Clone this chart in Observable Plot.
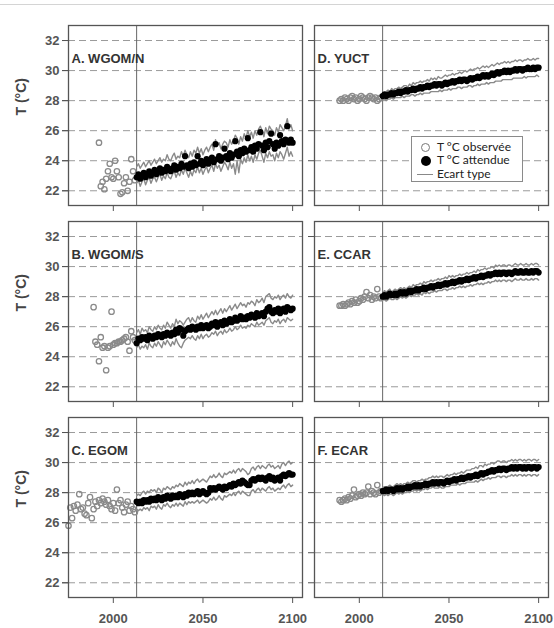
<!DOCTYPE html>
<html><head><meta charset="utf-8">
<script src="https://cdn.jsdelivr.net/npm/d3@7"></script>
<script src="https://cdn.jsdelivr.net/npm/@observablehq/plot@0.6"></script>
<style>
body{margin:0;background:#fff;}
#wrap{position:relative;width:554px;height:628px;overflow:hidden;background:#fff;}
#topline{position:absolute;left:0;top:4px;width:554px;height:0;border-top:1px solid #d4d4d4;}
#legend{position:absolute;left:411px;top:136px;width:112px;height:46px;border:1px solid #8a8a8a;background:#fff;font-family:Lato,"Open Sans",sans-serif;font-size:12px;color:#222;box-sizing:border-box;}
#legend .row{position:absolute;left:0;width:110px;height:14px;line-height:14px;}
#legend .lab{position:absolute;left:25px;top:0;white-space:nowrap;}
#legend .sym{position:absolute;box-sizing:border-box;}
</style>
</head><body>
<div id="wrap"><div id="topline"></div><div id="chart"></div><div id="legend"></div></div>
<script>
// ---- data ----
const panelNames = ["A. WGOM/N","B. WGOM/S","C. EGOM","D. YUCT","E. CCAR","F. ECAR"];
const xTicks = [2000, 2050, 2100];
const yTicks = [22, 24, 26, 28, 30, 32];
const splitYear = 2013;
const projStart = 2013;
const legendLabels = ["T °C observée", "T °C attendue", "Ecart type"];
const yTitle = "T (°C)";

// observed (start year + yearly values)
const obsStart = [1992, 1989, 1975, 1989, 1989, 1989];
const obsA = [25.2,22.3,22.6,22.1,22.8,23.3,23.8,22.9,22.8,24.0,23.3,22.9,21.8,21.9,22.5,22.9,22.0,22.6,24.1,23.3,22.7];
const obsB = [27.3,25.0,24.8,23.7,25.3,24.6,24.7,23.1,24.6,24.7,27.0,24.8,24.9,24.9,25.0,25.0,25.1,25.2,25.3,25.0,24.4,25.7,25.3,25.1];
const obsC = [25.8,27.0,26.3,27.1,26.8,27.2,27.9,26.9,27.0,26.6,26.5,27.3,27.7,26.3,26.9,27.4,27.1,27.5,27.3,27.6,27.4,27.2,27.5,27.1,26.9,27.3,26.8,28.2,27.3,27.5,27.0,26.7,27.2,27.4,26.8,27.1,26.9,26.7];
const obsD = [28.0,28.1,28.0,28.2,28.1,28.0,28.2,28.3,28.1,28.2,28.0,28.1,28.3,28.2,28.1,28.0,28.2,28.3,28.2,28.1,28.2,28.0,28.1,28.2];
const obsE = [27.4,27.4,27.5,27.4,27.5,27.6,27.5,27.7,27.6,27.8,27.6,27.7,27.9,27.8,28.0,28.3,27.9,28.1,27.8,28.0,27.9,28.5,28.0,27.9];
const obsF = [27.5,27.4,27.5,27.6,27.5,27.7,27.6,27.8,28.2,27.7,27.8,27.9,27.8,28.0,27.9,28.0,28.4,27.9,28.1,28.0,27.9,28.5,28.0,28.1];

// expected (2013-2100) with upper / lower standard deviation lines
const expA = [22.9,23.1,22.8,23.0,23.2,22.9,23.1,23.3,23.0,23.2, 23.4,23.1,23.3,23.5,23.2,23.4,23.3,23.6,23.4,23.3, 23.5,23.7,23.4,23.6,23.5,23.8,23.6,24.3,23.7,23.5, 23.8,23.6,23.9,23.7,24.3,23.8,24.0,23.7,23.9,24.1, 23.8,24.0,24.2,23.9,25.1,24.1,24.3,24.0,24.2,24.8, 24.3,24.1,24.5,24.2,24.4,25.3,24.6,24.3,24.7,24.5, 24.8,24.6,25.5,24.7,24.9,24.6,25.0,24.8,25.1,25.9, 25.0,24.7,25.2,24.9,25.3,25.8,25.1,24.8,25.2,25.0, 25.7,25.3,25.1,25.4,26.3,25.2,25.4,25.2];
const hiA = [23.6,23.8,23.5,23.7,23.9,23.6,23.8,24.0,23.7,23.9, 24.1,23.8,24.0,24.2,23.9,24.1,24.0,24.4,24.1,24.0, 24.3,24.5,24.1,24.3,24.2,24.6,24.3,24.7,24.4,24.2, 24.6,24.3,24.7,24.5,24.9,24.5,24.8,24.4,24.7,24.9, 24.6,24.9,25.1,24.7,25.4,25.0,25.2,24.8,25.1,25.3, 25.2,24.9,25.4,25.1,25.3,25.7,25.5,25.1,25.6,25.3, 25.8,25.5,26.0,25.6,25.9,25.5,26.0,25.7,26.1,26.3, 26.0,25.6,26.2,25.8,26.3,26.1,26.0,25.7,26.2,25.9, 26.4,26.2,26.0,26.3,26.8,26.1,26.4,26.0];
const loA = [22.5,22.7,22.3,22.6,22.8,22.4,22.7,22.9,22.5,22.8, 22.9,22.6,22.9,23.1,22.7,23.0,22.8,23.2,22.9,22.8, 23.1,23.3,22.9,23.2,23.0,23.4,23.1,23.5,23.2,22.9, 23.3,23.0,23.4,23.2,23.6,23.2,23.5,23.1,23.4,23.6, 23.2,23.5,23.7,23.3,23.8,23.5,23.7,23.3,23.6,23.9, 23.7,23.4,23.9,23.5,23.8,23.1,24.0,23.2,24.1,23.8, 24.2,23.9,24.4,24.0,24.3,23.9,24.4,24.1,24.5,24.7, 24.3,23.9,24.5,24.2,24.6,24.3,24.4,24.0,24.5,24.2, 24.6,24.4,24.1,24.5,24.9,24.3,24.6,24.3];

const expB = [24.9,25.2,25.1,25.3,25.2,25.3,25.1,25.4,25.3,25.2, 25.4,25.3,25.5,25.4,25.3,25.5,25.4,25.6,25.5,25.4, 25.6,25.5,25.8,25.6,25.9,25.8,25.4,25.7,25.8,25.9, 25.8,26.0,25.9,25.8,26.0,25.9,26.1,25.9,26.0,26.1, 25.9,26.0,26.2,26.1,26.3,26.0,26.2,26.3,26.1,26.4, 26.2,26.3,26.5,26.3,26.4,26.6,26.4,26.5,26.7,26.5, 26.6,26.5,26.7,26.6,26.8,26.7,26.6,26.9,26.7,26.8, 26.9,26.7,27.0,27.2,27.3,27.0,26.9,27.1,27.0,27.2, 26.9,27.1,27.2,27.0,27.3,27.2,27.1,27.2];
const hiB = [25.6,25.8,25.5,25.9,25.7,25.8,25.6,26.0,25.8,25.7, 26.0,25.8,26.1,25.9,25.8,26.1,25.9,26.3,26.1,25.9, 26.2,26.0,26.5,26.2,26.4,26.3,26.1,26.3,26.5,26.6, 26.3,26.6,26.4,26.3,26.7,26.5,26.8,26.5,26.7,26.9, 26.6,26.8,27.0,26.8,27.1,26.8,27.0,27.2,26.9,27.2, 27.0,27.2,27.4,27.1,27.3,27.5,27.2,27.4,27.6,27.4, 27.5,27.3,27.6,27.5,27.7,27.6,27.4,27.8,27.6,27.7, 27.9,27.6,28.0,28.1,28.2,27.9,27.8,28.0,27.9,28.1, 27.8,28.0,28.1,27.9,28.2,28.0,27.9,28.1];
const loB = [24.6,24.8,24.5,24.7,24.6,24.8,24.5,24.9,24.7,24.6, 24.9,24.7,25.0,24.8,24.6,25.0,24.8,25.1,24.9,24.7, 25.0,24.8,25.2,24.9,24.7,24.6,24.9,25.1,25.2,25.3, 25.2,25.4,25.2,25.1,25.4,25.2,25.5,25.2,25.4,25.5, 25.3,25.4,25.6,25.5,25.7,25.4,25.6,25.7,25.5,25.8, 25.6,25.7,25.9,25.7,25.8,26.0,25.8,25.9,26.1,25.9, 26.0,25.9,26.1,26.0,26.2,26.1,26.0,26.3,26.1,26.2, 26.3,26.1,26.4,26.5,26.6,26.3,26.2,26.4,26.3,26.5, 26.2,26.4,26.5,26.3,26.6,26.5,26.4,26.5];

const expC = [27.4,27.3,27.4,27.3,27.5,27.4,27.5,27.4,27.6,27.5, 27.6,27.5,27.7,27.6,27.5,27.7,27.6,27.8,27.7,27.6, 27.8,27.7,27.8,27.7,27.9,27.8,27.7,27.9,27.8,28.0, 27.9,28.0,27.9,28.0,28.1,27.9,28.0,28.1,28.0,27.9, 28.0,28.3,28.2,28.3,28.2,28.3,28.4,28.3,28.2,28.4, 28.3,28.4,28.5,28.4,28.6,28.5,28.6,28.7,28.6,28.8, 28.7,28.6,28.5,28.5,28.8,28.9,28.8,28.9,29.0,28.9, 29.0,28.9,28.8,29.0,29.1,28.9,29.0,28.8,28.9,29.0, 28.8,29.1,29.2,29.1,29.2,29.3,29.2,29.2];
const hiC = [27.8,27.9,27.8,28.0,28.1,27.9,28.1,28.0,28.2,28.1, 28.2,28.0,28.3,28.2,28.0,28.3,28.2,28.4,28.3,28.2, 28.4,28.3,28.5,28.4,28.6,28.5,28.4,28.7,28.5,28.7, 28.6,28.8,28.6,28.8,28.9,28.7,28.8,28.9,28.8,28.7, 28.9,29.1,29.0,29.2,29.0,29.1,29.3,29.1,29.0,29.3, 29.2,29.3,29.4,29.3,29.5,29.3,29.5,29.6,29.4,29.6, 29.5,29.4,29.2,29.3,29.6,29.7,29.5,29.7,29.8,29.6, 29.8,29.7,29.6,29.8,29.9,29.7,29.8,29.6,29.7,29.8, 29.6,29.9,30.0,29.8,30.0,30.1,29.9,30.0];
const loC = [26.9,26.8,26.9,26.8,27.0,26.9,27.0,26.8,27.1,27.0, 27.1,26.9,27.2,27.0,26.9,27.2,27.1,27.3,27.1,27.0, 27.2,27.1,27.3,27.1,27.3,27.2,27.1,27.4,27.2,27.4, 27.3,27.4,27.3,27.4,27.5,27.3,27.4,27.5,27.4,27.3, 27.4,27.6,27.5,27.7,27.5,27.6,27.8,27.6,27.5,27.8, 27.7,27.8,27.9,27.8,28.0,27.8,28.0,28.1,27.9,28.1, 28.0,27.9,27.8,27.8,28.1,28.2,28.0,28.2,28.3,28.1, 28.3,28.2,28.1,28.3,28.4,28.2,28.3,28.1,28.2,28.3, 28.2,28.4,28.5,28.3,28.5,28.6,28.4,28.5];

const expD = [28.3,28.4,28.3,28.4,28.4,28.5,28.4,28.5,28.5,28.6, 28.5,28.6,28.6,28.7,28.6,28.7,28.7,28.8,28.7,28.8, 28.8,28.9,28.8,28.9,28.9,29.0,28.9,29.0,29.0,29.1, 29.0,29.1,29.1,29.0,29.1,29.2,29.1,29.2,29.2,29.3, 29.2,29.3,29.3,29.4,29.3,29.4,29.4,29.3,29.4,29.5, 29.4,29.5,29.5,29.6,29.5,29.6,29.7,29.6,29.7,29.6, 29.7,29.8,29.7,29.8,29.9,29.8,29.9,29.9,30.0,29.9, 30.0,29.9,30.0,30.0,30.1,30.0,30.1,30.1,30.0,30.1, 30.1,30.2,30.1,30.1,30.2,30.1,30.2,30.2];
const hiD = [28.5,28.6,28.6,28.7,28.6,28.8,28.7,28.8,28.8,28.9, 28.8,28.9,29.0,29.0,28.9,29.1,29.0,29.2,29.1,29.2, 29.2,29.3,29.2,29.3,29.3,29.4,29.3,29.5,29.4,29.5, 29.4,29.6,29.5,29.5,29.6,29.7,29.6,29.7,29.7,29.8, 29.7,29.8,29.8,29.9,29.8,29.9,30.0,29.9,30.0,30.1, 30.0,30.1,30.1,30.2,30.1,30.2,30.3,30.2,30.3,30.2, 30.3,30.4,30.3,30.4,30.5,30.4,30.5,30.5,30.6,30.5, 30.6,30.5,30.6,30.6,30.7,30.6,30.7,30.7,30.6,30.7, 30.7,30.8,30.7,30.7,30.8,30.7,30.8,30.8];
const loD = [28.1,28.1,28.0,28.1,28.1,28.2,28.1,28.2,28.2,28.2, 28.2,28.3,28.2,28.3,28.3,28.3,28.4,28.4,28.3,28.4, 28.4,28.5,28.4,28.5,28.5,28.5,28.5,28.6,28.6,28.6, 28.6,28.6,28.7,28.6,28.7,28.7,28.7,28.8,28.7,28.8, 28.8,28.8,28.9,28.9,28.8,28.9,28.9,28.9,29.0,29.0, 28.9,29.0,29.0,29.1,29.0,29.1,29.1,29.1,29.2,29.1, 29.2,29.2,29.2,29.3,29.3,29.3,29.3,29.4,29.4,29.4, 29.4,29.4,29.4,29.5,29.5,29.5,29.5,29.5,29.5,29.6, 29.5,29.6,29.6,29.6,29.6,29.6,29.7,29.6];

const expE = [28.0,28.1,28.0,28.1,28.2,28.1,28.1,28.2,28.1,28.2, 28.3,28.2,28.3,28.2,28.3,28.4,28.3,28.4,28.4,28.5, 28.4,28.5,28.5,28.6,28.5,28.6,28.6,28.7,28.6,28.7, 28.7,28.8,28.7,28.8,28.8,28.9,28.8,28.9,28.9,29.0, 28.9,29.0,29.0,29.1,29.0,29.1,29.1,29.2,29.1,29.2, 29.2,29.3,29.2,29.3,29.3,29.4,29.3,29.4,29.4,29.5, 29.4,29.5,29.5,29.6,29.5,29.6,29.5,29.6,29.6,29.5, 29.6,29.6,29.5,29.6,29.7,29.6,29.6,29.7,29.6,29.6, 29.7,29.6,29.6,29.7,29.6,29.7,29.7,29.6];
const hiE = [28.2,28.4,28.3,28.4,28.5,28.3,28.4,28.5,28.4,28.5, 28.6,28.5,28.6,28.5,28.6,28.7,28.6,28.8,28.7,28.8, 28.8,28.9,28.8,29.0,28.9,29.0,29.0,29.1,29.0,29.1, 29.1,29.2,29.1,29.2,29.2,29.3,29.2,29.4,29.3,29.4, 29.3,29.4,29.4,29.5,29.4,29.5,29.5,29.6,29.5,29.6, 29.6,29.7,29.6,29.8,29.7,29.8,29.8,29.9,29.8,29.9, 29.9,30.0,29.9,30.1,30.0,30.1,30.0,30.1,30.1,30.0, 30.1,30.1,30.0,30.1,30.2,30.1,30.1,30.2,30.1,30.1, 30.2,30.1,30.1,30.2,30.1,30.2,30.2,30.1];
const loE = [27.8,27.8,27.7,27.8,27.9,27.8,27.8,27.9,27.8,27.9, 28.0,27.9,28.0,27.9,28.0,28.1,28.0,28.1,28.1,28.2, 28.1,28.2,28.1,28.3,28.2,28.3,28.2,28.3,28.3,28.4, 28.3,28.4,28.4,28.4,28.5,28.5,28.4,28.5,28.5,28.6, 28.5,28.6,28.6,28.7,28.6,28.7,28.6,28.7,28.7,28.8, 28.7,28.8,28.8,28.9,28.8,28.9,28.8,28.9,28.9,29.0, 28.9,29.0,29.0,29.1,29.0,29.1,29.0,29.1,29.1,29.0, 29.1,29.1,29.0,29.1,29.2,29.1,29.1,29.2,29.1,29.1, 29.2,29.1,29.1,29.2,29.1,29.2,29.2,29.1];

const expF = [28.1,28.1,28.2,28.1,28.2,28.2,28.1,28.2,28.3,28.2, 28.3,28.2,28.3,28.3,28.4,28.3,28.4,28.4,28.5,28.4, 28.5,28.4,28.5,28.5,28.6,28.5,28.6,28.6,28.7,28.6, 28.7,28.6,28.7,28.7,28.6,28.7,28.8,28.7,28.8,28.8, 28.9,28.8,28.9,28.9,29.0,28.9,29.0,29.0,29.1,29.0, 29.1,29.1,29.2,29.1,29.2,29.3,29.2,29.3,29.3,29.4, 29.4,29.5,29.4,29.5,29.5,29.6,29.5,29.6,29.6,29.5, 29.6,29.6,29.7,29.6,29.7,29.6,29.7,29.7,29.6,29.7, 29.6,29.7,29.7,29.6,29.7,29.7,29.6,29.7];
const hiF = [28.3,28.4,28.4,28.4,28.5,28.4,28.4,28.5,28.6,28.5, 28.6,28.5,28.6,28.6,28.7,28.6,28.7,28.8,28.8,28.7, 28.8,28.8,28.9,28.8,28.9,28.9,29.0,29.0,29.1,29.0, 29.1,29.0,29.1,29.1,29.0,29.1,29.2,29.1,29.2,29.2, 29.3,29.2,29.3,29.3,29.4,29.3,29.4,29.5,29.5,29.5, 29.6,29.6,29.7,29.6,29.8,29.8,29.7,29.9,29.8,29.9, 29.9,30.0,29.9,30.0,30.1,30.1,30.0,30.1,30.1,30.0, 30.1,30.1,30.2,30.1,30.2,30.1,30.2,30.2,30.1,30.2, 30.1,30.2,30.2,30.1,30.2,30.2,30.1,30.2];
const loF = [27.9,27.8,27.9,27.8,27.9,27.9,27.8,27.9,28.0,27.9, 28.0,27.9,28.0,28.0,28.1,28.0,28.1,28.1,28.2,28.1, 28.2,28.1,28.2,28.2,28.3,28.2,28.3,28.3,28.4,28.3, 28.3,28.3,28.4,28.3,28.3,28.4,28.4,28.4,28.5,28.5, 28.5,28.5,28.6,28.5,28.6,28.6,28.6,28.7,28.7,28.7, 28.7,28.7,28.8,28.7,28.8,28.9,28.8,28.9,28.9,29.0, 28.9,29.0,29.0,29.0,29.1,29.1,29.0,29.1,29.1,29.0, 29.1,29.1,29.2,29.1,29.2,29.1,29.2,29.2,29.1,29.2, 29.1,29.2,29.2,29.1,29.2,29.2,29.1,29.2];

// ---- build tables ----
const obsSeries = [obsA, obsB, obsC, obsD, obsE, obsF];
const expSeries = [expA, expB, expC, expD, expE, expF];
const hiSeries = [hiA, hiB, hiC, hiD, hiE, hiF];
const loSeries = [loA, loB, loC, loD, loE, loF];
const colOf = i => Math.floor(i / 3), rowOf = i => i % 3;

const observed = [], projected = [];
panelNames.forEach((name, i) => {
  obsSeries[i].forEach((v, k) => observed.push({panel: name, col: colOf(i), row: rowOf(i), year: obsStart[i] + k, t: v}));
  expSeries[i].forEach((v, k) => projected.push({panel: name, col: colOf(i), row: rowOf(i), year: projStart + k, t: v, hi: hiSeries[i][k], lo: loSeries[i][k]}));
});
const panels = panelNames.map((name, i) => ({panel: name, col: colOf(i), row: rowOf(i)}));
const leftPanels = panels.filter(p => p.col === 0);

const ink = "#555";
const chart = Plot.plot({
  width: 554, height: 628,
  marginTop: 24, marginBottom: 30, marginLeft: 67, marginRight: 6,
  x: {domain: [1975, 2105.5]},
  y: {domain: [21.02, 33]},
  fx: {axis: null, domain: [0, 1], paddingInner: 0.05, paddingOuter: 0},
  fy: {axis: null, domain: [0, 1, 2], paddingInner: 0.08, paddingOuter: 0},
  style: {fontFamily: "'Liberation Sans', Arial, sans-serif", fontSize: "13px", color: ink, background: "white"},
  marks: [
    Plot.ruleY(yTicks, {stroke: "#9a9a9a", strokeWidth: 1, strokeDasharray: "7,4"}),
    Plot.ruleX([splitYear], {stroke: "#666", strokeWidth: 1}),
    Plot.line(projected, {x: "year", y: "hi", z: "panel", fx: "col", fy: "row", stroke: "#8a8a8a", strokeWidth: 1.4}),
    Plot.line(projected, {x: "year", y: "lo", z: "panel", fx: "col", fy: "row", stroke: "#8a8a8a", strokeWidth: 1.4}),
    Plot.dot(observed, {x: "year", y: "t", fx: "col", fy: "row", r: 2.7, stroke: "#8a8a8a", strokeWidth: 1.3, fill: "none"}),
    Plot.dot(projected, {x: "year", y: "t", fx: "col", fy: "row", r: 3.1, fill: "black", stroke: "none"}),
    Plot.frame({stroke: ink, strokeWidth: 1.3}),
    Plot.axisX({ticks: xTicks, tickSize: 6, fill: "none", stroke: ink, facetAnchor: null, label: null}),
    Plot.axisX({ticks: xTicks, tickSize: 0, tickPadding: 16, tickFormat: d => String(d), fontWeight: "bold", fill: ink, label: null}),
    Plot.axisY({ticks: yTicks, tickSize: 6, fill: "none", stroke: ink, facetAnchor: null, label: null}),
    Plot.axisY({ticks: yTicks, tickSize: 6, tickPadding: 3, fontWeight: "bold", fill: ink, stroke: ink, label: null}),
    Plot.text(panels, {fx: "col", fy: "row", text: "panel", frameAnchor: "top-left", dx: 3, dy: 33, textAnchor: "start", lineAnchor: "middle", fontWeight: "bold", fontSize: 13, fill: "#333"}),
    Plot.text(leftPanels, {fx: "col", fy: "row", text: () => yTitle, frameAnchor: "left", dx: -47, rotate: -90, fontWeight: "bold", fontSize: 14, fill: "#444"})
  ]
});
document.getElementById("chart").appendChild(chart);

// legend (drawn over panel D)
const lg = document.getElementById("legend");
const rowsTop = [2.7, 16.3, 30.3];
legendLabels.forEach((lab, i) => {
  const row = document.createElement("div");
  row.className = "row";
  row.style.top = rowsTop[i] + "px";
  const sym = document.createElement("div");
  sym.className = "sym";
  if (i === 0) { Object.assign(sym.style, {left: "9px", top: "3px", width: "9px", height: "9px", border: "1.6px solid #777", borderRadius: "50%"}); }
  else if (i === 1) { Object.assign(sym.style, {left: "9px", top: "2.5px", width: "10px", height: "10px", background: "#000", borderRadius: "50%"}); }
  else { Object.assign(sym.style, {left: "5px", top: "7px", width: "16px", height: "0", borderTop: "1.2px solid #888"}); }
  const t = document.createElement("div");
  t.className = "lab";
  t.textContent = lab;
  row.appendChild(sym); row.appendChild(t); lg.appendChild(row);
});
</script>
</body></html>
